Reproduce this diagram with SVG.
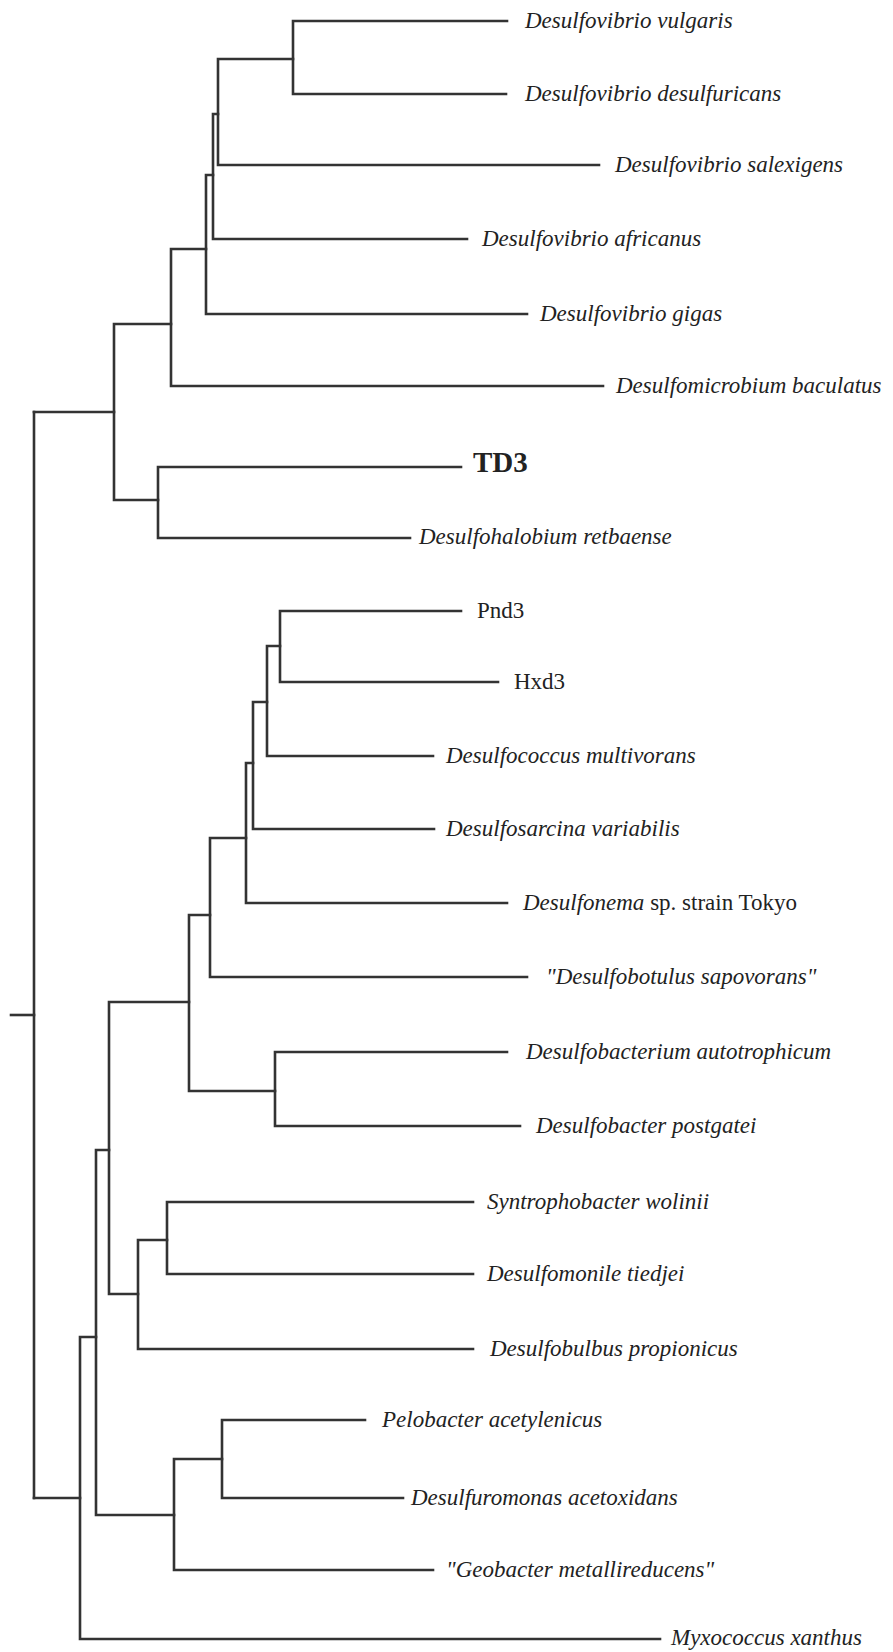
<svg xmlns="http://www.w3.org/2000/svg" width="893" height="1652" viewBox="0 0 893 1652">
<style>
.br{fill:none;stroke:#333;stroke-width:2.6;stroke-linecap:square}
.t{font-family:"Liberation Serif","Times New Roman",serif;font-size:23px;font-style:italic;fill:#222}
.n{font-style:normal}
.b{font-family:"Liberation Serif","Times New Roman",serif;font-size:29px;font-weight:bold;fill:#222}
</style>
<rect width="893" height="1652" fill="#fff"/>
<g id="connectors" class="br">
<path d="M507 21H293V94H506"/>
<path d="M218 59H293M218 59V165H599"/>
<path d="M213 114H218M213 114V239H467"/>
<path d="M206 175H213M206 175V314H527"/>
<path d="M171 249H206M171 249V386H603"/>
<path d="M461 467H158V538H410"/>
<path d="M114 324H171M114 324V500H158"/>
<path d="M34 412H114"/>
<path d="M34 412V1498"/>
<path d="M11 1015H34"/>
<path d="M461 611H280V682H498"/>
<path d="M267 646H280M267 646V756H433"/>
<path d="M253 702H267M253 702V829H434"/>
<path d="M246 763H253M246 763V903H507"/>
<path d="M210 838H246M210 838V977H527"/>
<path d="M507 1052H275V1126H520"/>
<path d="M189 915H210M189 915V1091H275"/>
<path d="M473 1202H167V1274H473"/>
<path d="M138 1240H167M138 1240V1349H473"/>
<path d="M109 1002H189M109 1002V1294H138"/>
<path d="M365 1420H222V1498H403"/>
<path d="M174 1459H222M174 1459V1570H433"/>
<path d="M96 1150H109M96 1150V1515H174"/>
<path d="M80 1337H96M80 1337V1639H660"/>
<path d="M34 1498H80"/>
</g>
<g id="n-dvulgaris"><text class="t" x="525" y="27.5">Desulfovibrio vulgaris</text></g>
<g id="n-ddesulfuricans"><text class="t" x="525" y="100.5">Desulfovibrio desulfuricans</text></g>
<g id="n-dsalexigens"><text class="t" x="615" y="171.5">Desulfovibrio salexigens</text></g>
<g id="n-dafricanus"><text class="t" x="482" y="245.5">Desulfovibrio africanus</text></g>
<g id="n-dgigas"><text class="t" x="540" y="320.5">Desulfovibrio gigas</text></g>
<g id="n-dbaculatus"><text class="t" x="616" y="392.5">Desulfomicrobium baculatus</text></g>
<g id="n-td3"><text class="b" x="473" y="472">TD3</text></g>
<g id="n-dretbaense"><text class="t" x="419" y="543.5">Desulfohalobium retbaense</text></g>
<g id="n-pnd3"><text class="t n" x="477" y="617.5">Pnd3</text></g>
<g id="n-hxd3"><text class="t n" x="514" y="688.5">Hxd3</text></g>
<g id="n-dmultivorans"><text class="t" x="446" y="762.5">Desulfococcus multivorans</text></g>
<g id="n-dvariabilis"><text class="t" x="446" y="835.5">Desulfosarcina variabilis</text></g>
<g id="n-desulfonema"><text class="t" x="523" y="909.5">Desulfonema<tspan class="n"> sp. strain Tokyo</tspan></text></g>
<g id="n-dsapovorans"><text class="t" x="546" y="983.5">"Desulfobotulus sapovorans"</text></g>
<g id="n-dautotrophicum"><text class="t" x="526" y="1058.5">Desulfobacterium autotrophicum</text></g>
<g id="n-dpostgatei"><text class="t" x="536" y="1132.5">Desulfobacter postgatei</text></g>
<g id="n-swolinii"><text class="t" x="487" y="1208.5">Syntrophobacter wolinii</text></g>
<g id="n-dtiedjei"><text class="t" x="487" y="1280.5">Desulfomonile tiedjei</text></g>
<g id="n-dpropionicus"><text class="t" x="490" y="1355.5">Desulfobulbus propionicus</text></g>
<g id="n-pacetylenicus"><text class="t" x="382" y="1426.5">Pelobacter acetylenicus</text></g>
<g id="n-dacetoxidans"><text class="t" x="411" y="1504.5">Desulfuromonas acetoxidans</text></g>
<g id="n-gmetallireducens"><text class="t" x="446" y="1576.5">"Geobacter metallireducens"</text></g>
<g id="n-mxanthus"><text class="t" x="671" y="1645">Myxococcus xanthus</text></g>
</svg>
